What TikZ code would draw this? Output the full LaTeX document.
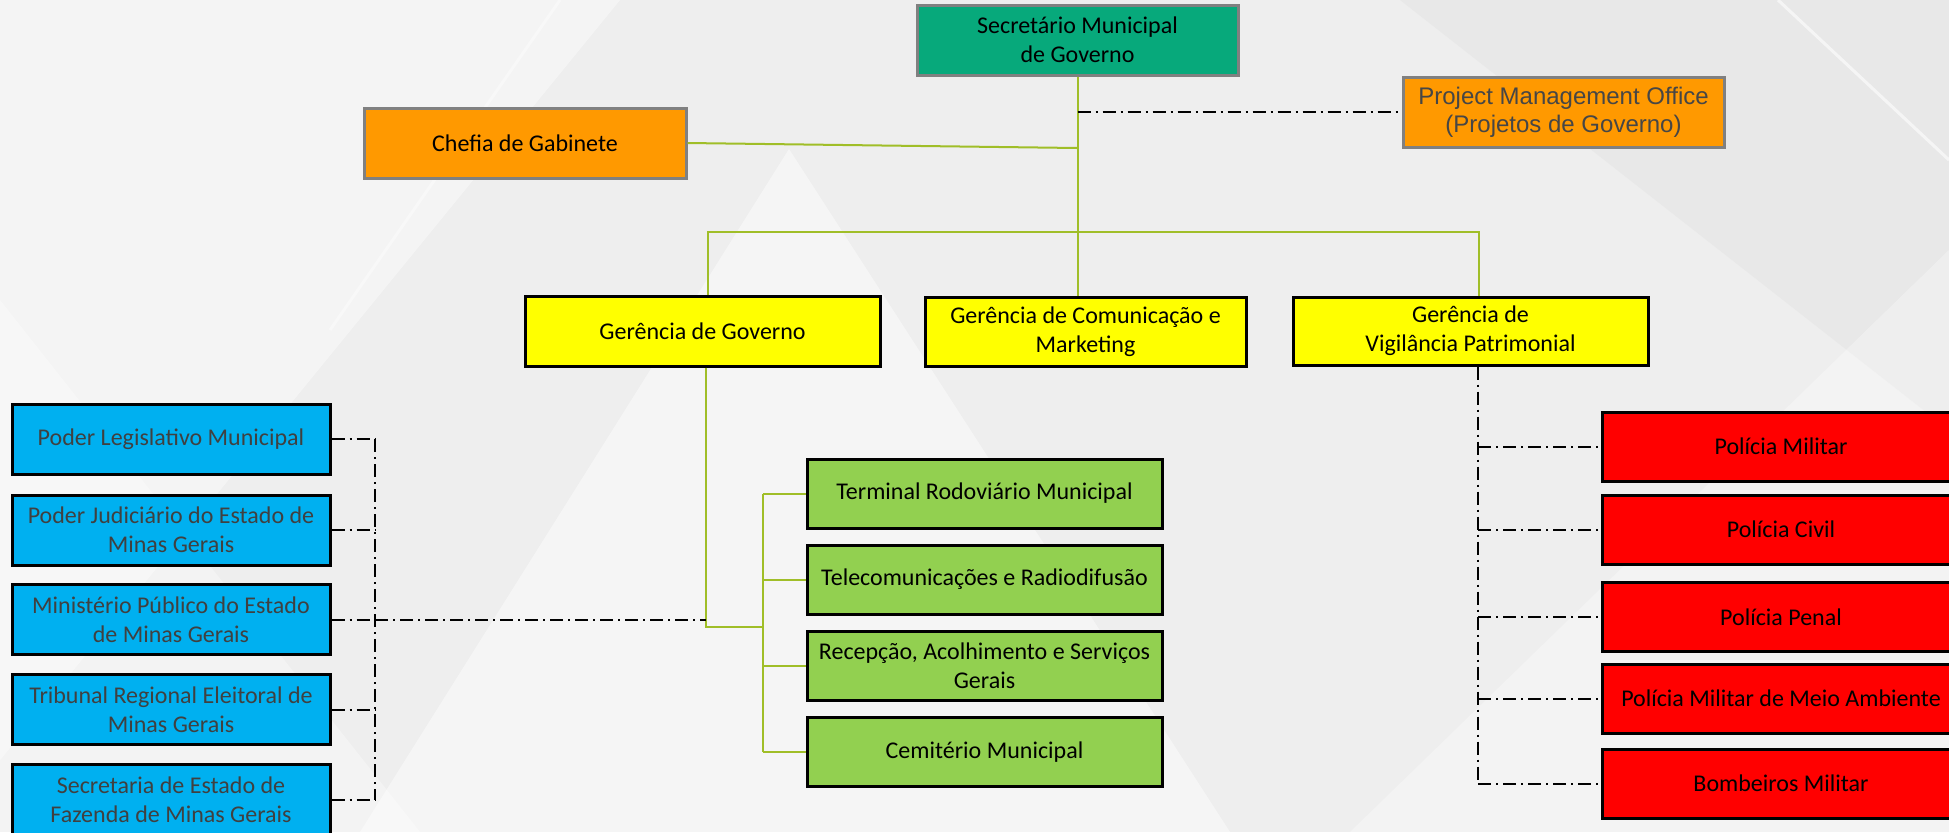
\documentclass[tikz,border=0pt]{standalone}
\usepackage{fontspec}
\setmainfont{Carlito}
\newfontfamily\arialf{Liberation Sans}
\definecolor{bgbase}{RGB}{238,238,238}
\definecolor{bgdark}{RGB}{228,228,228}
\definecolor{secgreen}{RGB}{7,169,123}
\definecolor{orangeb}{RGB}{255,153,0}
\definecolor{yel}{RGB}{255,255,0}
\definecolor{blueb}{RGB}{0,176,240}
\definecolor{greenb}{RGB}{146,208,80}
\definecolor{redb}{RGB}{255,0,0}
\definecolor{conn}{RGB}{160,190,40}
\definecolor{grayb}{RGB}{128,128,128}
\definecolor{bluetext}{RGB}{64,64,64}
\definecolor{pmotext}{RGB}{70,70,70}
\begin{document}
\begin{tikzpicture}[x=0.5pt,y=-0.5pt,
  box/.style={draw=black, line width=1.5pt, inner sep=0pt, align=center,
    font=\fontsize{12}{14.5}\selectfont, text=black},
  graybox/.style={box, draw=grayb},
  wh/.style 2 args={minimum width=#1*0.5pt, minimum height=#2*0.5pt},
  bluebox/.style={box, fill=blueb, text=bluetext, wh={318}{70}},
  greenbox/.style={box, fill=greenb, wh={355}{69}},
  redbox/.style={box, fill=redb, wh={358}{69}},
  yelbox/.style={box, fill=yel},
  conline/.style={draw=conn, line width=1pt},
  dd/.style={draw=black, line width=1pt, dash pattern=on 6.5pt off 2.5pt on 1pt off 2.5pt}
]
\useasboundingbox (0,0) rectangle (1949,832);
% background
\fill[bgbase] (0,0) rectangle (1949,832);
\fill[white, opacity=0.4] (0,0) -- (620,0) -- (0,760) -- cycle;
\fill[white, opacity=0.35] (0,300) -- (420,832) -- (0,832) -- cycle;
\fill[white, opacity=0.45] (789,149) -- (360,832) -- (1230,832) -- cycle;
\fill[bgdark, opacity=0.6] (1400,0) -- (1949,0) -- (1949,430) -- cycle;
\fill[white, opacity=0.3] (1949,250) -- (1949,832) -- (1350,832) -- cycle;
\draw[white, line width=1.5pt, opacity=0.6] (1778,0) -- (1949,160);
\draw[white, line width=1.5pt, opacity=0.4] (560,0) -- (330,330);

% top level
\node[graybox, fill=secgreen, wh={321}{70}] (sec) at (1077.5,40) {Secretário Municipal\\de Governo};
\node[graybox, fill=orangeb, wh={322}{70}] (chefia) at (525,143) {Chefia de Gabinete};
\node[graybox, fill=orangeb, wh={321}{70}, text=pmotext,
  font=\arialf\fontsize{12}{14}\selectfont] (pmo) at (1563.5,112) {Project Management Office\\(Projetos de Governo)};

% managers
\node[yelbox, wh={355}{70}] (gg) at (702.5,331) {Gerência de Governo};
\node[yelbox, wh={321}{69}] (gc) at (1085.5,331.5) {Gerência de Comunicação e\\Marketing};
\node[yelbox, wh={355}{68}] (gv) at (1470.5,331) {Gerência de\\Vigilância Patrimonial};

% blue boxes
\node[bluebox] (b1) at (171,439) {Poder Legislativo Municipal};
\node[bluebox] (b2) at (171,530) {Poder Judiciário do Estado de\\Minas Gerais};
\node[bluebox] (b3) at (171,619.5) {Ministério Público do Estado\\de Minas Gerais};
\node[bluebox] (b4) at (171,709.5) {Tribunal Regional Eleitoral de\\Minas Gerais};
\node[bluebox, wh={318}{72}] (b5) at (171,800) {Secretaria de Estado de\\Fazenda de Minas Gerais};

% green boxes
\node[greenbox] (g1) at (984.5,493.5) {Terminal Rodoviário Municipal};
\node[greenbox] (g2) at (984.5,579.5) {Telecomunicações e Radiodifusão};
\node[greenbox] (g3) at (984.5,666) {Recepção, Acolhimento e Serviços\\Gerais};
\node[greenbox] (g4) at (984.5,752) {Cemitério Municipal};

% red boxes
\node[redbox] (r1) at (1781,446.5) {Polícia Militar};
\node[redbox] (r2) at (1781,529.5) {Polícia Civil};
\node[redbox] (r3) at (1781,617) {Polícia Penal};
\node[redbox] (r4) at (1781,698.5) {Polícia Militar de Meio Ambiente};
\node[redbox] (r5) at (1781,783.5) {Bombeiros Militar};

% connectors
\coordinate (cj) at (1077.5,148);
\coordinate (busL) at (708,232);
\coordinate (busR) at (1479,232);
\coordinate (gjoin) at (706,627);
\coordinate (gbusT) at (763,493.5);
\coordinate (gbusB) at (763,752);
\coordinate (bv) at (375,0);
\coordinate (rv) at (1478,0);

\draw[conline] (sec.south) -- (sec.south |- gc.north);
\draw[conline] (chefia.east) -- (cj);
\draw[dd] (sec.south |- pmo.west) -- (pmo.west);
\draw[conline] (busL |- gg.north) -- (busL) -- (busR) -- (busR |- gv.north);
\draw[conline] (gjoin |- gg.south) -- (gjoin) -- (gjoin -| gbusT);
\draw[conline] (gbusT) -- (gbusB);
\foreach \g in {g1,g2,g3,g4} \draw[conline] (gbusT |- \g.west) -- (\g.west);

\draw[dd] (bv |- b1.east) -- (bv |- b5.east);
\foreach \b in {b1,b2,b3,b4,b5} \draw[dd] (\b.east) -- (bv |- \b.east);
\draw[dd] (bv |- b3.east) -- (gjoin |- b3.east);

\draw[dd] (rv |- gv.south) -- (rv |- r5.west);
\foreach \r in {r1,r2,r3,r4,r5} \draw[dd] (rv |- \r.west) -- (\r.west);
\end{tikzpicture}
\end{document}
